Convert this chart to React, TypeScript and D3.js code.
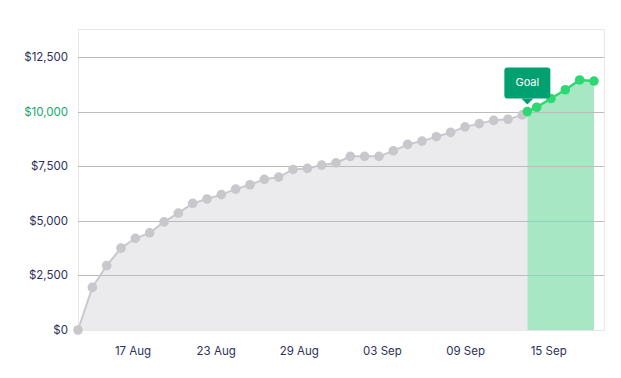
import React from "react";
import * as d3 from "d3";

// ---- data ----
const startDate = "2023-08-13";
const values: number[] = [
  0, 1950, 2950, 3750, 4200, 4450, 4950, 5350, 5800, 6000, 6200, 6450, 6650,
  6900, 7000, 7350, 7400, 7550, 7650, 7950, 7950, 7950, 8200, 8500, 8650, 8850,
  9050, 9300, 9450, 9600, 9650, 9850, 10200, 10600, 11000, 11450, 11400,
];
const goalDate = "2023-09-13T08:24:00";
const goalValue = 10000;
const goalLabel = "Goal";
const yTicks: number[] = [0, 2500, 5000, 7500, 10000, 12500];
const xTickLabels: string[] = ["17 Aug", "23 Aug", "29 Aug", "03 Sep", "09 Sep", "15 Sep"];
const xTickFirstOffsetDays = 3.84;
const xTickStepDays = 5.8;

const W = 621;
const H = 378;
const plot = { left: 78, top: 29.5, right: 604, bottom: 330.5 };

export default function App() {
  const start = new Date(startDate + "T00:00:00");
  const dates = values.map((_, i) => d3.timeDay.offset(start, i));
  const goalD = new Date(goalDate);

  const x = d3
    .scaleTime()
    .domain([dates[0], dates[dates.length - 1]])
    .range([78, 594]);
  const y = d3.scaleLinear().domain([0, 12500]).range([330, 57]);

  type P = { d: Date; v: number };
  const all: P[] = dates.map((d, i) => ({ d, v: values[i] }));
  const before = all.filter((p) => p.d < goalD);
  const after = all.filter((p) => p.d > goalD);
  const goalP: P = { d: goalD, v: goalValue };
  const grayPts = [...before, goalP];
  const greenPts = [goalP, ...after];

  const line = d3
    .line<P>()
    .x((p) => x(p.d))
    .y((p) => y(p.v));
  const area = d3
    .area<P>()
    .x((p) => x(p.d))
    .y0(y(0))
    .y1((p) => y(p.v));
  const greenArea = d3
    .area<P>()
    .x((p) => x(p.d))
    .y0(y(0))
    .y1(y(goalValue) );

  const fmt = d3.format("$,");
  const xTicks = xTickLabels.map((label, k) => ({
    label,
    d: new Date(start.getTime() + (xTickFirstOffsetDays + k * xTickStepDays) * 86400000),
  }));

  const gx = x(goalD);
  const gy = y(goalValue);
  const boxW = 46;
  const boxH = 31;
  const boxBottom = gy - 13;
  const boxTop = boxBottom - boxH;

  return (
    <div style={{ position: "absolute", left: 0, top: 0 }}>
      <svg width={W} height={H} style={{ display: "block", fontFamily: "Inter, 'Noto Sans', sans-serif" }}>
        <rect x={0} y={0} width={W} height={H} fill="#ffffff" />
        <rect
          x={plot.left + 0.5}
          y={plot.top}
          width={plot.right - plot.left}
          height={plot.bottom - plot.top}
          fill="#ffffff"
          stroke="#e8e8e8"
          strokeWidth={1}
        />
        {/* areas */}
        <path d={area(grayPts) || ""} fill="#ebebee" />
        <path d={area(greenPts) || ""} fill="#a8e7c3" />
        {/* grid lines */}
        {yTicks
          .filter((t) => t > 0)
          .map((t) => (
            <line
              key={t}
              x1={plot.left}
              x2={plot.right}
              y1={Math.round(y(t)) + 0.5}
              y2={Math.round(y(t)) + 0.5}
              stroke="#bcbcbc"
              strokeWidth={1}
            />
          ))}
        {/* lines */}
        <path d={line(grayPts) || ""} fill="none" stroke="#c9c9cd" strokeWidth={2} />
        <path d={line(greenPts) || ""} fill="none" stroke="#2dd872" strokeWidth={2.5} />
        {/* dots */}
        {before.map((p, i) => (
          <circle key={"g" + i} cx={x(p.d)} cy={y(p.v)} r={4.8} fill="#c7c7cc" />
        ))}
        {greenPts.map((p, i) => (
          <circle key={"n" + i} cx={x(p.d)} cy={y(p.v)} r={4.8} fill="#2dd872" />
        ))}
        {/* y axis labels */}
        {yTicks.map((t) => (
          <text
            key={t}
            x={68}
            y={y(t)}
            dy="0.35em"
            textAnchor="end"
            fontSize={11.5}
            fill={t === goalValue ? "#17a870" : "#2e3058"}
          >
            {fmt(t)}
          </text>
        ))}
        {/* x axis labels */}
        {xTicks.map((t) => (
          <text
            key={t.label}
            x={x(t.d)}
            y={351}
            dy="0.35em"
            textAnchor="middle"
            fontSize={11.5}
            fill="#2e3058"
          >
            {t.label}
          </text>
        ))}
        {/* goal annotation */}
        <rect x={gx - boxW / 2} y={boxTop} width={boxW} height={boxH} rx={3} fill="#00a070" />
        <path
          d={`M${gx - 6},${boxBottom} L${gx},${boxBottom + 6} L${gx + 6},${boxBottom} Z`}
          fill="#00a070"
        />
        <text
          x={gx}
          y={boxTop + boxH / 2 - 1}
          dy="0.35em"
          textAnchor="middle"
          fontSize={11}
          fill="#ffffff"
        >
          {goalLabel}
        </text>
      </svg>
    </div>
  );
}
